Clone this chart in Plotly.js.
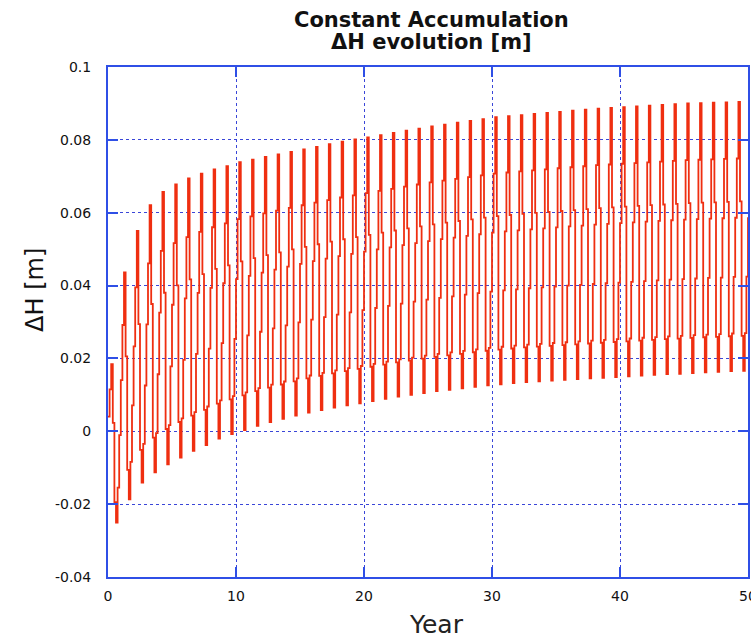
<!DOCTYPE html>
<html>
<head>
<meta charset="utf-8">
<script src="https://cdn.plot.ly/plotly-3.0.1.min.js"></script>
<style>
html,body{margin:0;padding:0;background:#fff;}
#chart{width:751px;height:640px;}
</style>
</head>
<body>
<div id="chart"></div>
<script>
// Yearly peak of ΔH (reached ~0.25 yr into each year), years 0..50
const peakVals = [
  0.0184, 0.0436, 0.0550, 0.0621, 0.0657, 0.0678, 0.0694, 0.0707, 0.0719, 0.0728,
  0.0739, 0.0746, 0.0753, 0.0760, 0.0767, 0.0774, 0.0781, 0.0788, 0.0795, 0.0801,
  0.0807, 0.0813, 0.0819, 0.0825, 0.0831, 0.0837, 0.0842, 0.0847, 0.0852, 0.0857,
  0.0862, 0.0865, 0.0868, 0.0871, 0.0874, 0.0877, 0.0880, 0.0883, 0.0886, 0.0888,
  0.0890, 0.0892, 0.0894, 0.0896, 0.0898, 0.0900, 0.0901, 0.0902, 0.0903, 0.0904,
  0.0905
];
// Yearly trough of ΔH (reached ~0.62 yr into each year), years 0..49
const troughVals = [
  -0.0251, -0.0187, -0.0141, -0.0113, -0.0091, -0.0072, -0.0054, -0.0038, -0.0020, -0.0008,
  0.0003, 0.0015, 0.0025, 0.0034, 0.0043, 0.0051, 0.0058, 0.0065, 0.0071, 0.0077,
  0.0083, 0.0089, 0.0095, 0.0100, 0.0105, 0.0110, 0.0114, 0.0118, 0.0122, 0.0126,
  0.0129, 0.0132, 0.0135, 0.0137, 0.0139, 0.0141, 0.0143, 0.0145, 0.0147, 0.0149,
  0.0151, 0.0153, 0.0155, 0.0157, 0.0158, 0.0160, 0.0162, 0.0163, 0.0165, 0.0166
];
const riseSteps = [0.14, 0.35, 0.57, 0.79];
const dropSteps = [0.37, 0.87];
// Values at the very start of the record (t = 0, 0.125)
const startVals = [0.004, 0.0115];
const stepsPerYear = 8;

const xTickVals = [0, 10, 20, 30, 40, 50];
const xTickText = ['0', '10', '20', '30', '40', '50'];
const yTickVals = [-0.04, -0.02, 0, 0.02, 0.04, 0.06, 0.08, 0.1];
const yTickText = ['-0.04', '-0.02', '0', '0.02', '0.04', '0.06', '0.08', '0.1'];

// Assemble the step series from the read values
const xs = [], ys = [];
function lvl(lo, hi, f){ return lo + f * (hi - lo); }
for (let k = 0; k < troughVals.length; k++) {
  const p = peakVals[k], tr = troughVals[k], pn = peakVals[k + 1];
  let v0, v1;
  if (k === 0) { v0 = startVals[0]; v1 = startVals[1]; }
  else {
    const tp = troughVals[k - 1];
    v0 = lvl(tp, p, riseSteps[2]);
    v1 = lvl(tp, p, riseSteps[3]);
  }
  const seq = [v0, v1, p, p - dropSteps[0] * (p - tr), p - dropSteps[1] * (p - tr), tr,
               lvl(tr, pn, riseSteps[0]), lvl(tr, pn, riseSteps[1])];
  seq.forEach((v, j) => { xs.push(k + j / stepsPerYear); ys.push(v); });
}
xs.push(troughVals.length);
ys.push(lvl(troughVals[troughVals.length - 1], peakVals[peakVals.length - 1], riseSteps[2]));

const blue = '#2f4fe6';
const gridBlue = '#3a46d8';

const trace = {
  x: xs, y: ys, type: 'scatter', mode: 'lines',
  line: {color: '#ef2e10', width: 1.8, shape: 'hv'},
  hoverinfo: 'skip', showlegend: false
};

const axisCommon = {
  showline: true, linecolor: blue, linewidth: 2, mirror: 'allticks',
  ticks: 'inside', ticklen: 10, tickwidth: 2, tickcolor: blue,
  showgrid: true, gridcolor: gridBlue, gridwidth: 1, griddash: 'dot',
  zeroline: false, tickmode: 'array', ticklabeloverflow: 'allow',
  tickfont: {family: 'DejaVu Sans, sans-serif', size: 14, color: '#111'}
};

const titleFont = {family: 'DejaVu Sans, sans-serif', size: 21, color: '#111'};

const layout = {
  width: 751, height: 640,
  margin: {l: 108, r: 3, t: 67, b: 63},
  paper_bgcolor: '#ffffff', plot_bgcolor: '#ffffff',
  xaxis: Object.assign({}, axisCommon, {
    range: [0, 50], tickvals: xTickVals, ticktext: xTickText,
    ticklabelstandoff: 5
  }),
  yaxis: Object.assign({}, axisCommon, {
    range: [-0.04, 0.1], tickvals: yTickVals, ticktext: yTickText,
    ticklabelstandoff: 12
  }),
  annotations: [
    {text: '<b>Constant Accumulation</b>', xref: 'paper', yref: 'paper', x: 0.506, y: 1.092,
     xanchor: 'center', yanchor: 'middle', showarrow: false, font: titleFont},
    {text: '<b>ΔH evolution [m]</b>', xref: 'paper', yref: 'paper', x: 0.506, y: 1.049,
     xanchor: 'center', yanchor: 'middle', showarrow: false, font: titleFont},
    {text: 'Year', xref: 'paper', yref: 'paper', x: 0.5125, y: -0.094,
     xanchor: 'center', yanchor: 'middle', showarrow: false,
     font: {family: 'DejaVu Sans, sans-serif', size: 25, color: '#222'}},
    {text: 'ΔH [m]', xref: 'paper', yref: 'paper', x: -0.114, y: 0.563, textangle: -90,
     xanchor: 'center', yanchor: 'middle', showarrow: false,
     font: {family: 'DejaVu Sans, sans-serif', size: 24, color: '#111'}}
  ]
};

Plotly.newPlot('chart', [trace], layout, {displayModeBar: false, staticPlot: true});
</script>
</body>
</html>
